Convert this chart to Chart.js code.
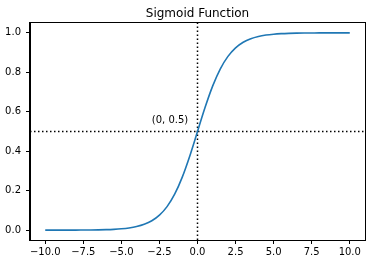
<!DOCTYPE html>
<html>
<head>
<meta charset="utf-8">
<script src="https://cdn.jsdelivr.net/npm/chart.js@4"></script>
<style>
  body { margin: 0; background: #fff; }
  canvas { display: block; }
</style>
</head>
<body>
<canvas id="sigmoidChart" width="375" height="264"></canvas>
<script>
// Données
const xValues = [-10, -9.5, -9, -8.5, -8, -7.5, -7, -6.5, -6, -5.5, -5, -4.5, -4, -3.5, -3, -2.5, -2, -1.5, -1, -0.5,
  0, 0.5, 1, 1.5, 2, 2.5, 3, 3.5, 4, 4.5, 5, 5.5, 6, 6.5, 7, 7.5, 8, 8.5, 9, 9.5, 10];
const yValues = [0.0000, 0.0001, 0.0001, 0.0002, 0.0003, 0.0006, 0.0009, 0.0015, 0.0025, 0.0041, 0.0067, 0.0110,
  0.0180, 0.0293, 0.0474, 0.0759, 0.1192, 0.1824, 0.2689, 0.3775, 0.5000, 0.6225, 0.7311, 0.8176, 0.8808,
  0.9241, 0.9526, 0.9707, 0.9820, 0.9890, 0.9933, 0.9959, 0.9975, 0.9985, 0.9991, 0.9994, 0.9997, 0.9998,
  0.9999, 0.9999, 1.0000];
const xTicks = [-10, -7.5, -5, -2.5, 0, 2.5, 5, 7.5, 10];
const yTicks = [0, 0.2, 0.4, 0.6, 0.8, 1.0];
const xRange = [-11, 11];
const yRange = [-0.05, 1.05];
const midPoint = { x: 0, y: 0.5 };
const annotationPos = { x: -3, y: 0.55 };

const FONT = "'DejaVu Sans', sans-serif";

const fmt = (v) => {
  const s = v.toFixed(1);
  return v < 0 ? "\u2212" + s.slice(1) : s;
};

// Cadre, titre et annotation
const textPlugin = {
  id: "titleAndLabel",
  afterDraw: (chart) => {
    const { ctx, chartArea, scales } = chart;
    ctx.save();
    ctx.strokeStyle = "#000";
    ctx.lineWidth = 1;
    ctx.strokeRect(Math.round(chartArea.left) - 0.5, Math.round(chartArea.top) - 0.5,
      Math.round(chartArea.right - chartArea.left) + 1, Math.round(chartArea.bottom - chartArea.top) + 1);
    ctx.fillStyle = "#000";
    ctx.font = "12px " + FONT;
    ctx.textAlign = "center";
    ctx.textBaseline = "alphabetic";
    ctx.fillText("Sigmoid Function", (chartArea.left + chartArea.right) / 2, 17);
    ctx.font = "10px " + FONT;
    ctx.textAlign = "left";
    ctx.fillText("(0, 0.5)", scales.x.getPixelForValue(annotationPos.x), scales.y.getPixelForValue(annotationPos.y) + 1);
    ctx.restore();
  },
};

const axisCommon = {
  type: "linear",
  border: { display: true, color: "#000", width: 1 },
  grid: { display: true, drawOnChartArea: false, drawTicks: true, tickLength: 4, color: "#000", tickWidth: 1 },
};

const ctx = document.getElementById("sigmoidChart").getContext("2d");
const chart = new Chart(ctx, {
  type: "scatter",
  data: {
    datasets: [
      {
        label: "sigmoid",
        data: xValues.map((x, i) => ({ x: x, y: yValues[i] })),
        showLine: true,
        borderColor: "#1f77b4",
        borderWidth: 1.6,
        pointRadius: 0,
        cubicInterpolationMode: "monotone",
      },
      {
        label: "hline",
        data: [{ x: xRange[0], y: midPoint.y }, { x: xRange[1], y: midPoint.y }],
        showLine: true,
        borderColor: "#000",
        borderWidth: 1.5,
        borderDash: [1.5, 2.5],
        pointRadius: 0,
      },
      {
        label: "vline",
        data: [{ x: midPoint.x, y: yRange[0] }, { x: midPoint.x, y: yRange[1] }],
        showLine: true,
        borderColor: "#000",
        borderWidth: 1.5,
        borderDash: [1.5, 2.5],
        pointRadius: 0,
      },
    ],
  },
  options: {
    responsive: false,
    animation: false,
    layout: { padding: { top: 23, right: 10, left: 0, bottom: 0 } },
    scales: {
      x: {
        ...axisCommon,
        min: xRange[0],
        max: xRange[1],
        afterBuildTicks: (s) => { s.ticks = xTicks.map((v) => ({ value: v })); },
        afterFit: (s) => { s.height = 24; },
        ticks: { color: "#000", font: { family: FONT, size: 10 }, padding: 2, maxRotation: 0, autoSkip: false, callback: fmt },
      },
      y: {
        ...axisCommon,
        min: yRange[0],
        max: yRange[1],
        afterBuildTicks: (s) => { s.ticks = yTicks.map((v) => ({ value: v })); },
        afterFit: (s) => { s.width = 30; },
        ticks: { color: "#000", font: { family: FONT, size: 10 }, padding: 5, autoSkip: false, callback: fmt },
      },
    },
    plugins: {
      legend: { display: false },
      tooltip: { enabled: false },
    },
  },
  plugins: [textPlugin],
});
</script>
</body>
</html>
